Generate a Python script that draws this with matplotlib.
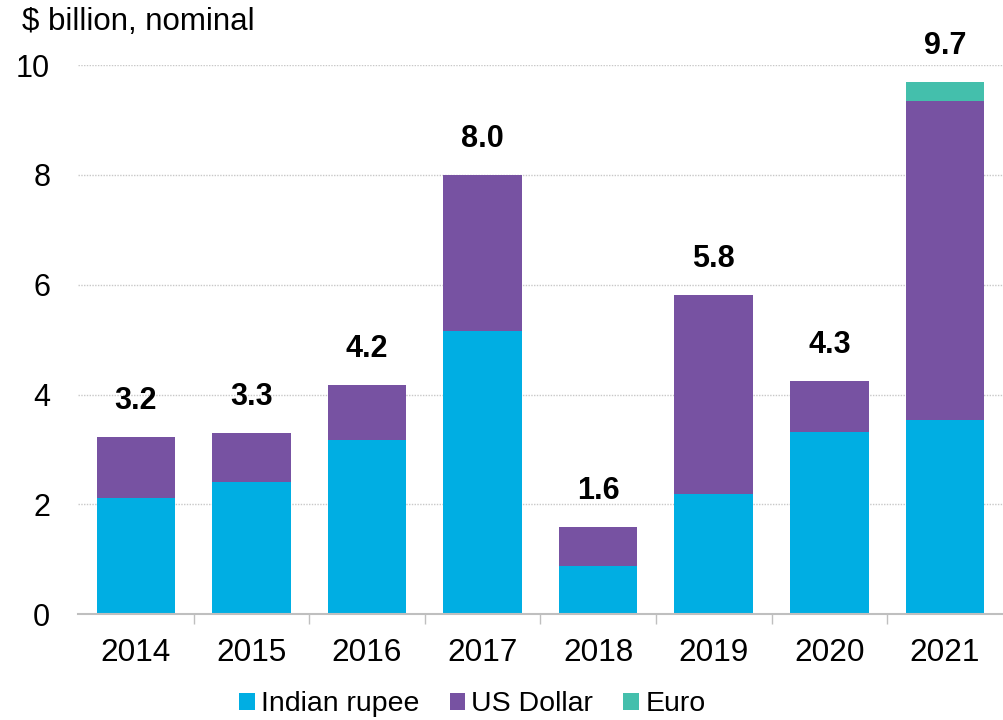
import numpy as np
import matplotlib
matplotlib.use('Agg')
import matplotlib.pyplot as plt

plt.rcParams['font.family'] = ['Liberation Sans', 'DejaVu Sans']

### --- data --- ###
years = ['2014', '2015', '2016', '2017', '2018', '2019', '2020', '2021']
rupee = [2.11, 2.40, 3.17, 5.15, 0.87, 2.19, 3.31, 3.53]
usd = [1.11, 0.90, 1.00, 2.85, 0.71, 3.62, 0.93, 5.81]
euro = [0, 0, 0, 0, 0, 0, 0, 0.35]
totals = ['3.2', '3.3', '4.2', '8.0', '1.6', '5.8', '4.3', '9.7']

c_rupee = '#00AEE3'
c_usd = '#7752A2'
c_euro = '#44BFAC'

fig = plt.figure(figsize=(10.04, 7.2), dpi=100)
ax = fig.add_axes([0.0777, 0.147, 0.921, 0.7626])

x = np.arange(len(years))
w = 0.68
rupee = np.array(rupee)
usd = np.array(usd)
euro = np.array(euro)
ax.bar(x, rupee, w, color=c_rupee, label='Indian rupee', zorder=3)
ax.bar(x, usd, w, bottom=rupee, color=c_usd, label='US Dollar', zorder=3)
ax.bar(x, euro, w, bottom=rupee + usd, color=c_euro, label='Euro', zorder=3)

# totals above each stack
top = rupee + usd + euro
for xi, yi, lab in zip(x, top, totals):
    ax.annotate(lab, (xi, yi), xytext=(0, 26), textcoords='offset points',
                ha='center', va='center', fontsize=22, fontweight='bold',
                annotation_clip=False)

ax.set_xlim(-0.5, len(years) - 0.5)
ax.set_ylim(0, 10)
ax.set_yticks([0, 2, 4, 6, 8, 10])
ax.yaxis.grid(True, linestyle=(0, (1, 1)), color='#c8c8c8', linewidth=1, zorder=0)
ax.set_axisbelow(True)

for s in ['top', 'right', 'left']:
    ax.spines[s].set_visible(False)
ax.spines['bottom'].set_color('#bfbfbf')
ax.spines['bottom'].set_linewidth(1.5)
ax.spines['bottom'].set_zorder(4)

ax.set_xticks(x)
ax.set_xticklabels(years)
ax.set_xticks(np.arange(0.5, len(years) - 1, 1), minor=True)
ax.tick_params(axis='x', which='major', length=0, labelsize=22.7, pad=17)
ax.tick_params(axis='x', which='minor', length=7, color='#bfbfbf', width=1)
ax.tick_params(axis='y', length=0, labelsize=22, pad=20)

fig.text(0.022, 0.969, '$ billion, nominal', fontsize=22.5, va='center', ha='left')

ax.legend(loc='center', bbox_to_anchor=(0.4265, -0.164), ncol=3, frameon=False,
          fontsize=20.5, handlelength=0.55, handleheight=0.55, handletextpad=0.22,
          columnspacing=1.05)

fig.savefig('out.png', dpi=100)
